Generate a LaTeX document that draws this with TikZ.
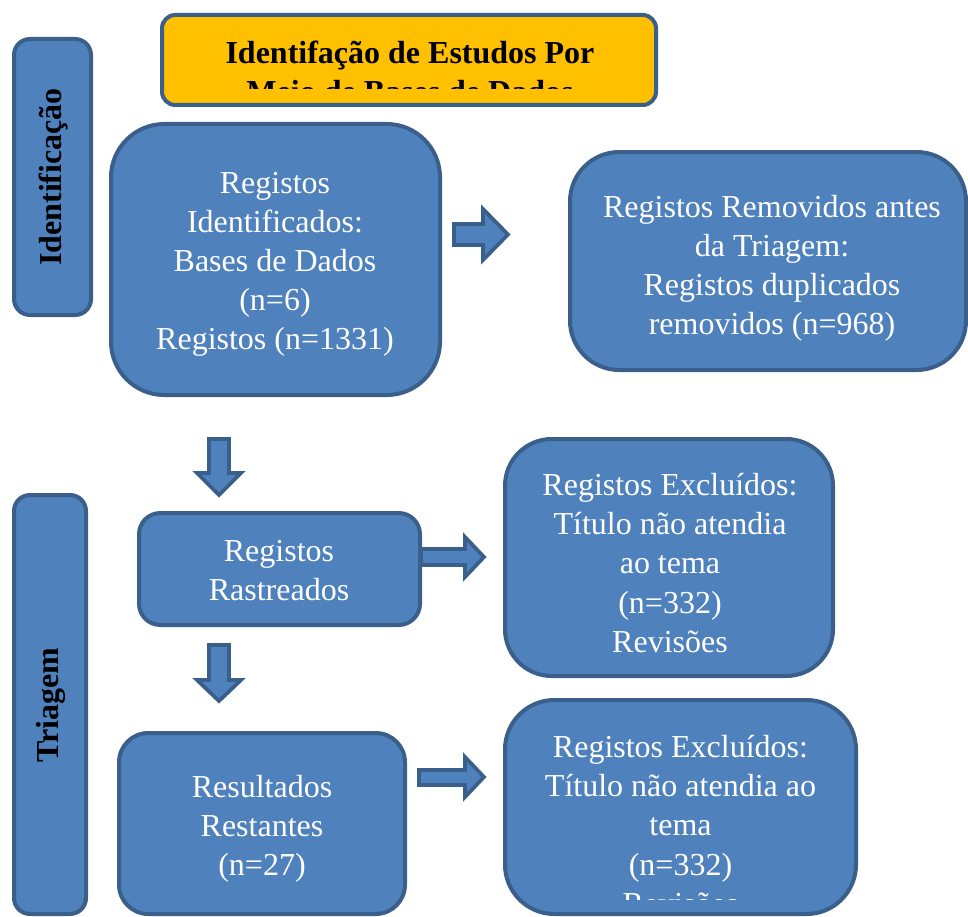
\documentclass[tikz,border=0pt]{standalone}
\usepackage{fontspec}
\setmainfont{Liberation Serif}
\definecolor{boxblue}{HTML}{4F81BD}
\definecolor{edgeblue}{HTML}{3A5F8B}
\definecolor{gold}{HTML}{FFC000}
\tikzset{
  box/.style={draw=edgeblue, fill=boxblue, line width=3pt, rectangle, inner sep=0pt},
  txt/.style={text=white, align=center, font=\fontsize{24}{29.3}\selectfont, inner sep=0pt},
  side/.style={text=black, font=\fontsize{24}{29.3}\selectfont\bfseries, rotate=90, inner sep=0pt},
  hdrtext/.style={text=black, align=center, font=\fontsize{24}{29.3}\selectfont\bfseries, inner sep=0pt},
  blockarrow/.style={draw=edgeblue, fill=boxblue, line width=2.8pt, line join=miter},
}
\begin{document}
\begin{tikzpicture}[x=0.75pt,y=-0.75pt]
\useasboundingbox (0,0) rectangle (968,917);

% header
\node[box, fill=gold, rounded corners=10pt, minimum width=370.5pt, minimum height=67.5pt] (hdr) at (409,60) {};
\begin{scope}
  \clip (160,13) rectangle (660,89);
  \node[hdrtext] (hdrtxt) at (410,72) {Identifação de Estudos Por\\Meio de Bases de Dados};
\end{scope}

% side labels
\node[box, rounded corners=12pt, minimum width=57.75pt, minimum height=207pt] (identbox) at (52.5,177) {};
\node[side] (identtxt) at (54,177) {Identificação};
\node[box, rounded corners=12pt, minimum width=54pt, minimum height=314.25pt] (triabox) at (50,704.5) {};
\node[side] (triatxt) at (51,705) {Triagem};

% boxes
\node[box, rounded corners=40pt, minimum width=246.75pt, minimum height=203.25pt] (A) at (275.5,259.5) {};
\node[txt] (tA) at (275,264) {Registos\\Identificados:\\Bases de Dados\\(n=6)\\Registos (n=1331)};

\node[box, rounded corners=37pt, minimum width=297pt, minimum height=163.5pt] (B) at (768,261) {};
\node[txt] (tB) at (772,268) {Registos Removidos antes\\da Triagem:\\Registos duplicados\\removidos (n=968)};

\node[box, rounded corners=16pt, minimum width=210.75pt, minimum height=84pt] (C) at (279.5,569) {};
\node[txt] (tC) at (279,571) {Registos\\Rastreados};

\node[box, rounded corners=35pt, minimum width=246pt, minimum height=177.75pt] (D) at (669,557.5) {};
\node[txt] (tD) at (670,563) {Registos Excluídos:\\Título não atendia\\ao tema\\(n=332)\\Revisões};

\node[box, rounded corners=22pt, minimum width=214.5pt, minimum height=135.75pt] (E) at (262,823.5) {};
\node[txt] (tE) at (262,828.5) {Resultados\\Restantes\\(n=27)};

\node[box, rounded corners=37pt, minimum width=263.25pt, minimum height=160.5pt] (F) at (680.5,807) {};
\begin{scope}
  \clip (504,700) rectangle (858,899);
  \node[txt] (tF) at (680.5,825) {Registos Excluídos:\\Título não atendia ao\\tema\\(n=332)\\Revisões};
\end{scope}

% block arrows
\draw[blockarrow] (454,224) -- (483,224) -- (483,209) -- (508,234.5) -- (483,260) -- (483,245) -- (454,245) -- cycle;
\draw[blockarrow] (421,549) -- (465,549) -- (465,537) -- (484,557) -- (465,577) -- (465,565) -- (421,565) -- cycle;
\draw[blockarrow] (419,770) -- (465,770) -- (465,757) -- (484,777) -- (465,797) -- (465,785) -- (419,785) -- cycle;
\draw[blockarrow] (209,439) -- (229,439) -- (229,473) -- (241,473) -- (219,495) -- (197,473) -- (209,473) -- cycle;
\draw[blockarrow] (209,645) -- (229,645) -- (229,680) -- (241,680) -- (219,701) -- (197,680) -- (209,680) -- cycle;
\end{tikzpicture}
\end{document}
